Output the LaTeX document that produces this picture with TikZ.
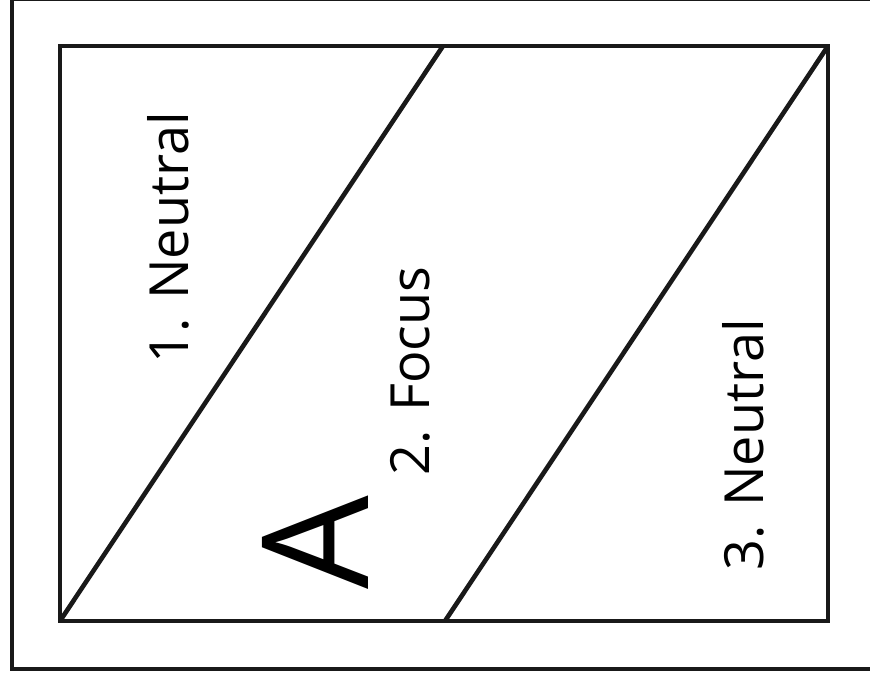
\documentclass[tikz,border=0pt]{standalone}
\usepackage{fontspec}
\setmainfont{Open Sans}
\usetikzlibrary{positioning}

\begin{document}
\begin{tikzpicture}[x=1pt, y=1pt, frame/.style={line width=4.6pt, draw=black!90}, zone/.style={rotate=90, anchor=base west, inner sep=0pt}]
            \useasboundingbox (0,0) rectangle (870,679);
            \clip (0,0) rectangle (870,679);
            \draw[frame] (872,680) -- (12,680) -- (12,10) -- (872,10);
            \coordinate (sw) at (60,58);
            \coordinate (ne) at (828,633);
            \coordinate (topmid) at (443,633);
            \coordinate (botmid) at (445,58);
            \draw[frame] (sw) rectangle (ne);
            \draw[frame] (sw) -- (topmid);
            \draw[frame] (botmid) -- (ne);
            \foreach \name/\x/\y/\txt in {one/188/315/1. Neutral, two/429/203/2. Focus, three/763/108/3. Neutral} {
                \node[zone, font=\fontsize{54}{60}\selectfont] (\name) at (\x,\y) {\txt};
            }
            \node[zone, font=\fontsize{148}{160}\selectfont] (letter) at (368,89) {A};
        \end{tikzpicture}
\end{document}
